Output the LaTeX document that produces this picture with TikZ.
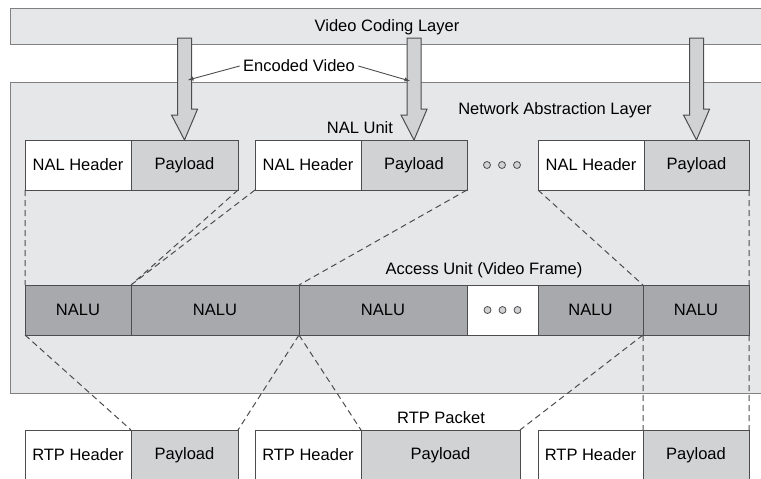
\documentclass[tikz,border=0pt]{standalone}
\usepackage{fontspec}
\setmainfont{Liberation Sans}
\usetikzlibrary{positioning}
\definecolor{layer}{HTML}{E6E7E8}
\definecolor{pay}{HTML}{D1D2D4}
\definecolor{nalu}{HTML}{A7A9AC}
\definecolor{edge}{HTML}{4D4D4F}
\begin{document}
\begin{tikzpicture}[x=1pt,y=-1pt,font=\fontsize{16.5}{19}\selectfont,
  box/.style={draw=edge,line width=1pt,outer sep=0pt,minimum height=50pt,inner sep=0pt,anchor=north west},
  hdr/.style={box,fill=white},
  pld/.style={box,fill=pay},
  nal/.style={box,fill=nalu},
  cut/.style={edge,line width=1pt,dash pattern=on 6pt off 4pt},
  bigarrow/.style={draw=edge,line width=1pt,fill=pay,line join=miter},
  ooo/.pic={\foreach \i in {-15,0,15} \draw[edge,fill=pay,line width=0.8pt] (\i,0) circle (3.5);},
  node distance=0pt]
\useasboundingbox (0,0) rectangle (761,479);
\draw[fill=layer,draw=gray,line width=1pt] (10,8) rectangle (775,44);
\draw[fill=layer,draw=gray,line width=1pt] (10,82) rectangle (775,393);
\node (vcl) at (387,27) {Video Coding Layer};
\node (nalyr) at (555,110) {Network Abstraction Layer};
\node (nalunit) at (360,128) {NAL Unit};
\node (aulbl) at (484,270) {Access Unit (Video Frame)};
\node (rtplbl) at (441,418) {RTP Packet};
\node[hdr,minimum width=106pt] (h1) at (25,140) {NAL Header};
\node[pld,minimum width=107pt,right=of h1] (p1) {Payload};
\node[hdr,minimum width=106pt] (h2) at (255,140) {NAL Header};
\node[pld,minimum width=106pt,right=of h2] (p2) {Payload};
\pic at (502,165) {ooo};
\node[hdr,minimum width=106pt] (h3) at (538,140) {NAL Header};
\node[pld,minimum width=105pt,right=of h3] (p3) {Payload};
\node[nal,minimum width=106pt] (a1) at (25,285) {NALU};
\node[nal,minimum width=168pt,right=of a1] (a2) {NALU};
\node[nal,minimum width=168pt,right=of a2] (a3) {NALU};
\node[hdr,minimum width=71pt,right=of a3] (a4) {};
\pic at (a4.center) {ooo};
\node[nal,minimum width=105pt,right=of a4] (a5) {NALU};
\node[nal,minimum width=106pt,right=of a5] (a6) {NALU};
\node[hdr,minimum width=106pt] (r1h) at (25,430) {RTP Header};
\node[pld,minimum width=107pt,right=of r1h] (r1p) {Payload};
\node[hdr,minimum width=106pt] (r2h) at (255,430) {RTP Header};
\node[pld,minimum width=159pt,right=of r2h] (r2p) {Payload};
\node[hdr,minimum width=105pt] (r3h) at (538,430) {RTP Header};
\node[pld,minimum width=106pt,right=of r3h] (r3p) {Payload};
\draw[cut] (h1.south west) -- (a1.north west) (p1.south east) -- (a1.north east)
  (h2.south west) -- (a2.north west) (p2.south east) -- (a3.north west)
  (h3.south west) -- (a6.north west) (p3.south east) -- (a6.north east);
\draw[cut] (a1.south west) -- (r1p.north west) (a3.south west) -- (r1p.north east)
  (a3.south west) -- (r2p.north west) (a6.south west) -- (r2p.north east)
  (a6.south west) -- (r3p.north west) (a6.south east) -- (r3p.north east);
\foreach \p in {p1,p2,p3}
  \draw[bigarrow] (\p.north) -- ++(-13,-25) -- ++(6,0) |- (vcl.south -| \p.north) -- ++(7,0)
    -- ++(0,71) -- ++(6,0) -- cycle;
\node (enc) at (299,66) {Encoded Video};
\coordinate (e1) at (188,80);
\coordinate (e2) at (410,81);
\draw[edge,line width=0.9pt,-latex] (enc.west) -- (e1);
\draw[edge,line width=0.9pt,-latex] (enc.east) -- (e2);
\end{tikzpicture}
\end{document}
